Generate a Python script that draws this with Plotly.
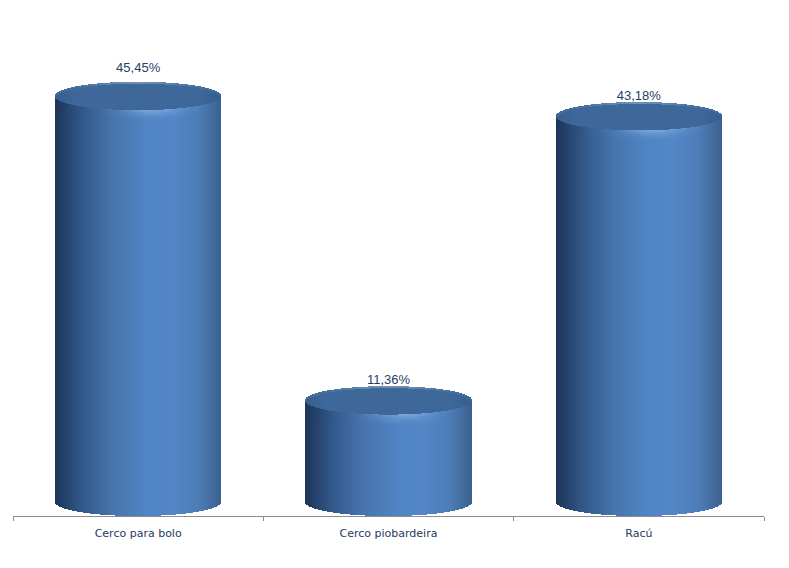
import numpy as np
import plotly.graph_objects as go

categories = ["Cerco para bolo", "Cerco piobardeira", "Racú"]
values = [45.45, 11.36, 43.18]
value_labels = ["45,45%", "11,36%", "43,18%"]

# vertical position of each label above the top of its cylinder, in value units
label_lift = [3.1, 2.25, 2.15]

BAR_WIDTH = 0.66
N_SLICES = 165
RIM = 1.57  # half height of the ellipses, in value units
HALO_ROWS = 10

# colour across the cylinder, left edge to right edge
side_stops = [
    (0.00, "#1d3557"),
    (0.06, "#25416a"),
    (0.18, "#345b8d"),
    (0.35, "#4674ab"),
    (0.55, "#5084c4"),
    (0.72, "#5386c7"),
    (0.86, "#4d7db8"),
    (0.95, "#436d9f"),
    (1.00, "#3a6190"),
]


def hex_rgb(c):
    return np.array([int(c[i:i + 2], 16) for i in (1, 3, 5)], dtype=float)


def to_css(rgb):
    return "rgb(%d,%d,%d)" % tuple(np.clip(np.round(rgb), 0, 255))


def side_color(t):
    pos = [s[0] for s in side_stops]
    cols = np.array([hex_rgb(s[1]) for s in side_stops])
    return np.array([np.interp(t, pos, cols[:, i]) for i in range(3)])


u = (np.arange(N_SLICES) + 0.5) / N_SLICES
arc = np.sqrt(1 - (2 * u - 1) ** 2)  # ellipse half height profile
slice_w = BAR_WIDTH / N_SLICES
offsets = -BAR_WIDTH / 2 + np.arange(N_SLICES) * slice_w
row_h = 0.12

fig = go.Figure()

for cat, val in zip(categories, values):
    # cylinder body, bottom edge follows the front of the base ellipse
    fig.add_trace(go.Bar(
        x=[cat] * N_SLICES, y=val + RIM * arc,
        base=-RIM * arc, offset=offsets, width=slice_w * 1.6,
        marker=dict(color=[to_css(side_color(t)) for t in u], line_width=0),
        showlegend=False, hoverinfo="skip",
    ))

    # soft glow right under the front rim of the top face
    xs, ys, bases, offs, cols = [], [], [], [], []
    glow = np.exp(-((u - 0.6) / 0.18) ** 2)
    for r in range(HALO_ROWS):
        fade = (1 - r / HALO_ROWS) ** 1.5
        for i in range(N_SLICES):
            k = 0.45 * glow[i] * fade
            c = side_color(u[i]) * (1 - k) + hex_rgb("#a9cdf5") * k
            xs.append(cat)
            ys.append(row_h * 1.4)
            bases.append(val - RIM * arc[i] - row_h * (r + 1))
            offs.append(offsets[i])
            cols.append(to_css(c))
    fig.add_trace(go.Bar(
        x=xs, y=ys, base=bases, offset=offs, width=slice_w * 1.6,
        marker=dict(color=cols, line_width=0),
        showlegend=False, hoverinfo="skip",
    ))

    # top face
    top_cols = []
    for t in u:
        edge = np.clip((abs(2 * t - 1) - 0.75) / 0.25, 0, 1)
        top_cols.append(to_css(hex_rgb("#3d6899") * (1 - edge) + hex_rgb("#365f90") * edge))
    fig.add_trace(go.Bar(
        x=[cat] * N_SLICES, y=2 * RIM * arc, base=val - RIM * arc,
        offset=offsets, width=slice_w * 1.6,
        marker=dict(color=top_cols, line_width=0),
        showlegend=False, hoverinfo="skip",
    ))

    # lighter back edge of the top face
    back_cols = [to_css(hex_rgb("#3d6899") * (1 - 0.3 * g) + hex_rgb("#dce8f5") * 0.3 * g)
                 for g in np.exp(-((u - 0.5) / 0.3) ** 2)]
    fig.add_trace(go.Bar(
        x=[cat] * N_SLICES, y=[0.12] * N_SLICES, base=val + RIM * arc - 0.12,
        offset=offsets, width=slice_w * 1.6,
        marker=dict(color=back_cols, line_width=0),
        showlegend=False, hoverinfo="skip",
    ))

fig.add_trace(go.Scatter(
    x=categories,
    y=[v + d for v, d in zip(values, label_lift)],
    text=value_labels,
    mode="text",
    textposition="middle center",
    textfont=dict(family="Liberation Sans", size=13, color="#1f3f66"),
    showlegend=False, hoverinfo="skip",
))

# the page has an 8px body margin, so the canvas is 8px smaller each way
fig.update_layout(
    width=781,
    height=560,
    barmode="overlay",
    bargap=0,
    plot_bgcolor="white",
    paper_bgcolor="white",
    margin=dict(l=5, r=25, t=0, b=52),
    xaxis=dict(
        type="category", categoryorder="array", categoryarray=categories,
        range=[-0.5, 2.5], showgrid=False, showline=True, linewidth=1, linecolor="#8c8c8c",
        ticks="outside", tickson="boundaries", ticklen=4, tickcolor="#8c8c8c", tickwidth=1,
        tickfont=dict(family="DejaVu Sans", size=11, color="#1f3a5f"),
        ticklabelstandoff=7, zeroline=False,
    ),
    yaxis=dict(range=[-1.568, 55.32], visible=False),
)

fig.write_html("out.html")
